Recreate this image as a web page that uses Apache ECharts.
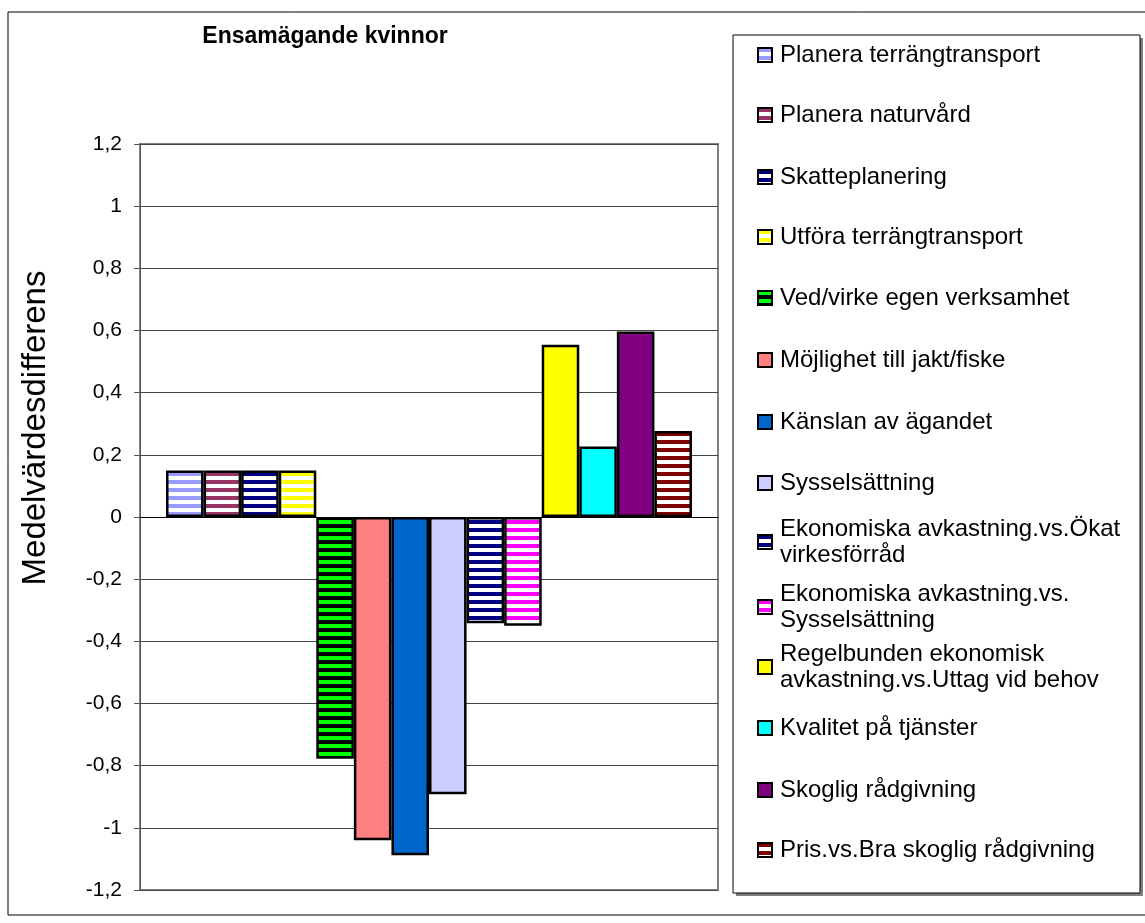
<!DOCTYPE html>
<html>
<head>
<meta charset="utf-8">
<script src="https://cdn.jsdelivr.net/npm/echarts@6/dist/echarts.min.js"></script>
<style>
  html, body { margin: 0; padding: 0; background: #fff; }
  #chart { width: 1145px; height: 923px; }
</style>
</head>
<body>
<div id="chart"></div>
<script>
  const FONT = '"Liberation Sans", Arial, sans-serif'

  const seriesNames = [
    'Planera terrängtransport',
    'Planera naturvård',
    'Skatteplanering',
    'Utföra terrängtransport',
    'Ved/virke egen verksamhet',
    'Möjlighet till jakt/fiske',
    'Känslan av ägandet',
    'Sysselsättning',
    'Ekonomiska avkastning.vs.Ökat virkesförråd',
    'Ekonomiska avkastning.vs. Sysselsättning',
    'Regelbunden ekonomisk avkastning.vs.Uttag vid behov',
    'Kvalitet på tjänster',
    'Skoglig rådgivning',
    'Pris.vs.Bra skoglig rådgivning'
  ]
  const seriesValues = [0.15, 0.15, 0.15, 0.15, -0.778, -1.04, -1.088, -0.892, -0.342, -0.35, 0.554, 0.227, 0.597, 0.277]
  const yTicks = { min: -1.2, max: 1.2, step: 0.2 }

  // legend labels that wrap onto two lines
  const wrapped = {
    'Ekonomiska avkastning.vs.Ökat virkesförråd': 'Ekonomiska avkastning.vs.Ökat\nvirkesförråd',
    'Ekonomiska avkastning.vs. Sysselsättning': 'Ekonomiska avkastning.vs.\nSysselsättning',
    'Regelbunden ekonomisk avkastning.vs.Uttag vid behov': 'Regelbunden ekonomisk\navkastning.vs.Uttag vid behov'
  }
  // first-line centre of each legend entry
  const legendCenters = [55, 115, 177, 237, 298, 360, 422, 483, 542, 607, 667, 728, 790, 850]

  // fill: [fg, bg] for horizontal stripes, or a plain colour
  const fills = [
    ['#9999ff', '#ffffff'],
    ['#993366', '#ffffff'],
    ['#000080', '#ffffff'],
    ['#ffff00', '#ffffff'],
    ['#00ff00', '#000000'],
    '#ff8080',
    '#0066cc',
    '#ccccff',
    ['#000080', '#ffffff'],
    ['#ff00ff', '#ffffff'],
    '#ffff00',
    '#00ffff',
    '#800080',
    ['#800000', '#ffffff']
  ]

  function stripes(fg, bg) {
    const c = document.createElement('canvas')
    c.width = 8
    c.height = 8
    const ctx = c.getContext('2d')
    ctx.fillStyle = bg
    ctx.fillRect(0, 0, 8, 8)
    ctx.fillStyle = fg
    ctx.fillRect(0, 0, 8, 4)
    return { image: c, repeat: 'repeat' }
  }

  function fmt(v) {
    const r = Math.round(v * 10) / 10
    return String(r).replace('.', ',')
  }

  const series = seriesNames.map((name, i) => ({
    name: name,
    type: 'bar',
    data: [seriesValues[i]],
    barGap: '0%',
    barCategoryGap: '9%',
    itemStyle: {
      color: Array.isArray(fills[i]) ? stripes(fills[i][0], fills[i][1]) : fills[i],
      borderColor: '#000',
      borderWidth: 2.5
    },
    emphasis: { disabled: true }
  }))

  const legends = seriesNames.map((name, i) => {
    const two = !!wrapped[name]
    return {
      data: [name],
      left: 757,
      top: legendCenters[i] - (two ? 39 : 13),
      padding: 0,
      icon: 'rect',
      itemWidth: 14,
      itemHeight: 14,
      selectedMode: false,
      formatter: n => wrapped[n] || n,
      textStyle: {
        fontFamily: FONT,
        fontSize: 24,
        color: '#000',
        lineHeight: 26,
        padding: two ? [26, 0, 0, 3] : [0, 0, 0, 3]
      }
    }
  })

  const chart = echarts.init(document.getElementById('chart'))
  chart.setOption({
    animation: false,
    backgroundColor: '#fff',
    title: {
      text: 'Ensamägande kvinnor',
      left: 320,
      textAlign: 'center',
      top: 20,
      textStyle: { fontFamily: FONT, fontSize: 23, fontWeight: 'bold', color: '#000' }
    },
    graphic: [
      { type: 'rect', z: -10, shape: { x: 8, y: 12, width: 1150, height: 903 }, style: { fill: '#fff', stroke: '#000', lineWidth: 1 } },
      { type: 'rect', z: -9, shape: { x: 736, y: 38, width: 407, height: 858 }, style: { fill: '#808080' } },
      { type: 'rect', z: -8, shape: { x: 733, y: 35, width: 407, height: 858 }, style: { fill: '#fff', stroke: '#000', lineWidth: 1 } },
      {
        type: 'text', x: 36, y: 428, rotation: Math.PI / 2,
        style: { text: 'Medelvärdesdifferens', fontFamily: FONT, fontSize: 33, fill: '#000', align: 'center', verticalAlign: 'middle' }
      }
    ],
    legend: legends,
    grid: {
      left: 140,
      right: 427,
      top: 144,
      bottom: 33,
      show: true,
      backgroundColor: '#fff',
      borderColor: '#808080',
      borderWidth: 2,
      containLabel: false
    },
    xAxis: {
      type: 'category',
      data: [''],
      axisLine: { onZero: true, lineStyle: { color: '#000', width: 1 } },
      axisTick: { show: false },
      axisLabel: { show: false },
      splitLine: { show: false }
    },
    yAxis: {
      type: 'value',
      min: yTicks.min,
      max: yTicks.max,
      interval: yTicks.step,
      axisLine: { show: true, lineStyle: { color: '#555', width: 1 } },
      axisTick: { show: true, length: 6, inside: false, lineStyle: { color: '#555' } },
      axisLabel: { fontFamily: FONT, fontSize: 21, color: '#000', margin: 18, formatter: fmt },
      splitLine: { show: true, lineStyle: { color: '#444', width: 1 } }
    },
    series: series
  })
</script>
</body>
</html>
